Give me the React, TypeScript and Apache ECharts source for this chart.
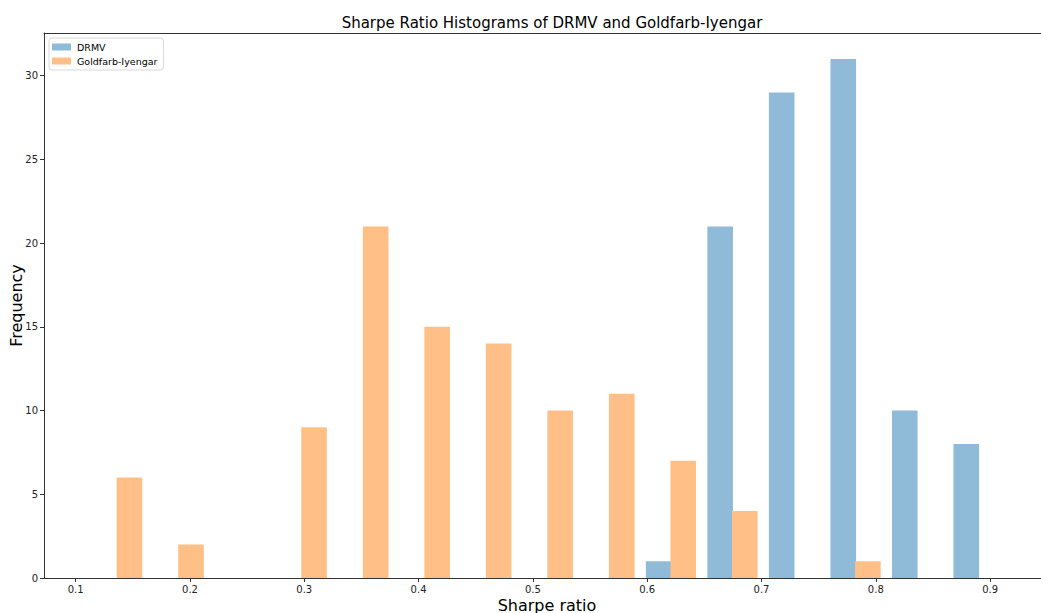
import React, { useEffect, useRef } from "react";
import * as echarts from "echarts";

const binEdges = [
  0.1094, 0.1632, 0.2171, 0.2709, 0.3247, 0.3786, 0.4324, 0.4862, 0.54,
  0.5939, 0.6477, 0.7015, 0.7554, 0.8092, 0.863, 0.9169,
];
const drmvCounts = [0, 0, 0, 0, 0, 0, 0, 0, 0, 1, 21, 29, 31, 10, 8];
const gilCounts = [6, 2, 0, 9, 21, 15, 14, 10, 11, 7, 4, 0, 1, 0, 0];
const seriesNames = ["DRMV", "Goldfarb-Iyengar"];
const xTicks = [0.1, 0.2, 0.3, 0.4, 0.5, 0.6, 0.7, 0.8, 0.9];
const yTicks = [0, 5, 10, 15, 20, 25, 30];

const BLUE = "#8fbbd9";
const ORANGE = "#ffbf86";
const FONT = "DejaVu Sans";

function barData(counts: number[], slot: number) {
  // matplotlib side-by-side bars: rwidth 0.8, two datasets
  return counts.map((c, i) => {
    const l = binEdges[i];
    const w = binEdges[i + 1] - binEdges[i];
    const x0 = l + w * (0.1 + 0.4 * slot);
    const x1 = x0 + w * 0.4;
    return [x0, x1, c];
  });
}

export default function App() {
  const ref = useRef<HTMLDivElement>(null);
  useEffect(() => {
    if (!ref.current) return;
    const chart = echarts.init(ref.current, null, { renderer: "svg" });
    const renderItem = (color: string) => (params: any, api: any) => {
      const x0 = api.value(0);
      const x1 = api.value(1);
      const y = api.value(2);
      if (!y) return null;
      const p0 = api.coord([x0, y]);
      const p1 = api.coord([x1, 0]);
      return {
        type: "rect",
        shape: { x: p0[0] - 0.5, y: p0[1], width: p1[0] - p0[0] + 1, height: p1[1] - p0[1] },
        style: { fill: color },
      };
    };
    chart.setOption({
      animation: false,
      textStyle: { fontFamily: FONT },
      title: {
        text: "Sharpe Ratio Histograms of DRMV and Goldfarb-Iyengar",
        left: "center",
        top: 10,
        textStyle: { fontFamily: FONT, fontSize: 15, fontWeight: "normal", color: "#000" },
      },
      legend: {
        orient: "vertical",
        left: 49,
        top: 38,
        padding: [4, 6, 4, 3],
        itemGap: 4,
        itemWidth: 19,
        itemHeight: 7,
        borderColor: "#d8d8d8",
        borderWidth: 1,
        borderRadius: 3,
        backgroundColor: "rgba(255,255,255,0.8)",
        textStyle: { fontFamily: FONT, fontSize: 9.5, color: "#000", padding: [0, 0, 0, 1] },
        data: [
          { name: seriesNames[0], icon: "rect" },
          { name: seriesNames[1], icon: "rect" },
        ],
      },
      grid: { left: 44, right: 54, top: 33, bottom: 35, containLabel: false, outerBoundsMode: "none" },
      xAxis: [
        {
          type: "value",
          min: 0.0723,
          max: 0.9524,
          interval: 0.1,
          splitLine: { show: false },
          axisLine: { onZero: false, lineStyle: { color: "#333", width: 1 } },
          axisTick: {
            length: 4,
            lineStyle: { color: "#333" },
            customValues: xTicks,
          },
          axisLabel: {
            color: "#222",
            fontSize: 10,
            fontFamily: FONT,
            margin: 6,
            customValues: xTicks,
            formatter: (v: number) => v.toFixed(1),
          },
          name: "Sharpe ratio",
          nameLocation: "middle",
          nameGap: 19,
          nameMoveOverlap: false,
          nameTextStyle: { fontFamily: FONT, fontSize: 16, color: "#000" },
        },
        {
          type: "value",
          position: "top",
          min: 0.0723,
          max: 0.9524,
          axisLine: { show: true, onZero: false, lineStyle: { color: "#333", width: 1 } },
          axisTick: { show: false },
          axisLabel: { show: false },
          splitLine: { show: false },
        },
      ],
      yAxis: {
        type: "value",
        min: 0,
        max: 32.55,
        interval: 5,
        splitLine: { show: false },
        axisLine: { show: true, lineStyle: { color: "#333", width: 1 } },
        axisTick: { show: true, length: 4, lineStyle: { color: "#333" }, customValues: yTicks },
        axisLabel: {
          color: "#222",
          fontSize: 10,
          fontFamily: FONT,
          margin: 6,
          customValues: yTicks,
        },
        name: "Frequency",
        nameLocation: "middle",
        nameGap: 20,
        nameMoveOverlap: false,
        nameTextStyle: { fontFamily: FONT, fontSize: 16, color: "#000" },
      },
      series: [
        {
          name: seriesNames[0],
          type: "custom",
          itemStyle: { color: BLUE },
          encode: { x: [0, 1], y: 2 },
          renderItem: renderItem(BLUE),
          data: barData(drmvCounts, 0),
        },
        {
          name: seriesNames[1],
          type: "custom",
          itemStyle: { color: ORANGE },
          encode: { x: [0, 1], y: 2 },
          renderItem: renderItem(ORANGE),
          data: barData(gilCounts, 1),
        },
      ],
    });
    return () => chart.dispose();
  }, []);
  return (
    <div
      style={{
        position: "fixed",
        left: 0,
        top: 0,
        width: 1041,
        height: 613,
        overflow: "hidden",
        background: "#fff",
      }}
    >
      <div ref={ref} style={{ width: 1104, height: 613 }} />
    </div>
  );
}
